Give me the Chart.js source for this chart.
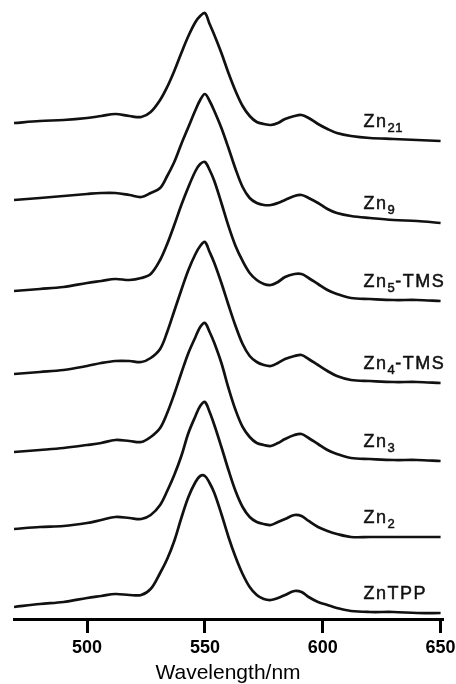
<!DOCTYPE html>
<html>

<head>
    <title>Zn porphyrin absorption spectra</title>
    <script src="https://cdn.jsdelivr.net/npm/chart.js"></script>
    <style>
        html, body { margin: 0; padding: 0; background: #fff; }
        canvas { display: block; }
    </style>
</head>

<body>
    <canvas id="specChart" width="456" height="684"></canvas>
    <script>
        // wavelength grid (nm), shared by every trace
        const wavelengths = [469, 480, 490, 500, 506, 512, 518, 523, 527, 531,
            534, 537, 540, 543, 546, 548, 550, 552, 554, 557,
            560, 563, 566, 569, 572, 575, 578, 581, 584, 588,
            591, 594, 598, 602, 606, 612, 620, 630, 640, 650];

        // absorbance (offset, a.u.), top trace first
        const zn21 = [4.97, 4.99, 5.00, 5.02, 5.04, 5.06, 5.04, 5.03, 5.08, 5.20,
            5.33, 5.49, 5.67, 5.84, 5.98, 6.04, 6.07, 5.96, 5.85, 5.67,
            5.47, 5.29, 5.14, 5.04, 4.98, 4.96, 4.95, 4.97, 5.01, 5.04,
            5.05, 5.02, 4.96, 4.91, 4.87, 4.84, 4.82, 4.81, 4.80, 4.79];
        const zn9 = [4.20, 4.22, 4.24, 4.26, 4.27, 4.27, 4.25, 4.23, 4.27, 4.32,
            4.44, 4.58, 4.76, 4.93, 5.10, 5.20, 5.26, 5.19, 5.09, 4.92,
            4.72, 4.51, 4.33, 4.22, 4.17, 4.15, 4.15, 4.17, 4.20, 4.24,
            4.25, 4.22, 4.17, 4.11, 4.07, 4.04, 4.02, 4.00, 3.99, 3.97];
        const zn5tms = [3.29, 3.31, 3.33, 3.37, 3.39, 3.41, 3.40, 3.42, 3.46, 3.60,
            3.76, 3.95, 4.15, 4.33, 4.49, 4.56, 4.58, 4.50, 4.39, 4.17,
            3.94, 3.74, 3.59, 3.47, 3.40, 3.36, 3.35, 3.38, 3.43, 3.46,
            3.46, 3.42, 3.36, 3.30, 3.26, 3.22, 3.21, 3.20, 3.20, 3.19];
        const zn4tms = [2.46, 2.48, 2.50, 2.54, 2.57, 2.59, 2.59, 2.58, 2.62, 2.71,
            2.88, 3.09, 3.30, 3.50, 3.66, 3.74, 3.78, 3.68, 3.57, 3.37,
            3.15, 2.94, 2.76, 2.64, 2.58, 2.55, 2.54, 2.57, 2.61, 2.64,
            2.65, 2.61, 2.55, 2.49, 2.44, 2.40, 2.39, 2.38, 2.38, 2.37];
        const zn3 = [1.68, 1.70, 1.72, 1.75, 1.77, 1.80, 1.79, 1.78, 1.83, 1.92,
            2.07, 2.26, 2.47, 2.67, 2.83, 2.93, 2.97, 2.88, 2.77, 2.57,
            2.32, 2.10, 1.93, 1.83, 1.77, 1.75, 1.74, 1.77, 1.81, 1.85,
            1.86, 1.82, 1.76, 1.70, 1.66, 1.62, 1.61, 1.60, 1.60, 1.59];
        const zn2 = [0.91, 0.93, 0.94, 0.97, 1.00, 1.03, 1.02, 1.01, 1.05, 1.15,
            1.29, 1.45, 1.64, 1.87, 2.04, 2.14, 2.18, 2.08, 1.95, 1.73,
            1.50, 1.29, 1.13, 1.03, 0.98, 0.96, 0.95, 0.98, 1.01, 1.05,
            1.04, 0.99, 0.93, 0.89, 0.86, 0.83, 0.83, 0.83, 0.83, 0.83];
        const znTPP = [0.13, 0.16, 0.18, 0.22, 0.24, 0.26, 0.25, 0.25, 0.31, 0.47,
            0.61, 0.79, 1.02, 1.23, 1.38, 1.44, 1.44, 1.37, 1.27, 1.06,
            0.83, 0.63, 0.46, 0.33, 0.25, 0.21, 0.20, 0.22, 0.25, 0.29,
            0.28, 0.23, 0.18, 0.15, 0.12, 0.09, 0.08, 0.08, 0.07, 0.07];

        // series names as [main, subscript, tail]
        const seriesNames = [['Zn', '21', ''], ['Zn', '9', ''], ['Zn', '5', '-TMS'], ['Zn', '4', '-TMS'],
            ['Zn', '3', ''], ['Zn', '2', ''], ['ZnTPP', '', '']];
        const seriesValues = [zn21, zn9, zn5tms, zn4tms, zn3, zn2, znTPP];
        const xTicks = [500, 550, 600, 650];

        const FONT = "'Liberation Sans', Arial, Helvetica, sans-serif";
        const labelNm = 617.3;

        // names drawn right above the flat tail of each trace
        const seriesLabels = {
            id: 'seriesLabels',
            afterDatasetsDraw(chart) {
                const ctx = chart.ctx;
                const xs = chart.scales.x, ys = chart.scales.y;
                ctx.save();
                ctx.fillStyle = '#111';
                ctx.strokeStyle = '#111';
                ctx.lineWidth = 0.5;
                ctx.textBaseline = 'alphabetic';
                ctx.textAlign = 'left';
                chart.data.datasets.forEach((ds, i) => {
                    const [main, sub, tail] = seriesNames[i];
                    const last = ds.data[ds.data.length - 1].y;
                    let px = xs.getPixelForValue(labelNm);
                    const py = ys.getPixelForValue(last) - 14;
                    ctx.letterSpacing = '1.5px';
                    ctx.font = '18px ' + FONT;
                    ctx.fillText(main, px, py);
                    ctx.strokeText(main, px, py);
                    px += ctx.measureText(main).width;
                    if (sub) {
                        ctx.letterSpacing = '0.5px';
                        ctx.font = '13px ' + FONT;
                        ctx.fillText(sub, px, py + 5);
                        ctx.strokeText(sub, px, py + 5);
                        px += ctx.measureText(sub).width;
                    }
                    if (tail) {
                        ctx.letterSpacing = '1.5px';
                        ctx.font = '18px ' + FONT;
                        ctx.fillText(tail, px, py);
                        ctx.strokeText(tail, px, py);
                    }
                });
                ctx.restore();
            }
        };

        const datasets = seriesValues.map((vals, i) => ({
            label: seriesNames[i].join(''),
            data: wavelengths.map((w, j) => ({ x: w, y: vals[j] })),
            borderColor: '#111',
            borderWidth: 2.7,
            pointRadius: 0,
            tension: 0.35,
            fill: false
        }));

        const ctx = document.getElementById('specChart').getContext('2d');
        new Chart(ctx, {
            type: 'line',
            data: { datasets: datasets },
            options: {
                responsive: false,
                animation: false,
                layout: { padding: { left: 14, right: 14, top: 0, bottom: 0 } },
                plugins: {
                    legend: { display: false },
                    tooltip: { enabled: false }
                },
                scales: {
                    x: {
                        type: 'linear',
                        min: 469,
                        max: 650.6,
                        afterBuildTicks: (scale) => { scale.ticks = xTicks.map(v => ({ value: v })); },
                        ticks: {
                            color: '#000',
                            padding: 0,
                            maxRotation: 0,
                            font: { family: FONT, size: 18, weight: 'bold', lineHeight: 1.667 }
                        },
                        grid: {
                            drawOnChartArea: false,
                            tickLength: 13,
                            lineWidth: 3,
                            tickWidth: 3,
                            color: '#000',
                            tickColor: '#000'
                        },
                        border: { display: true, color: '#000', width: 3 },
                        title: {
                            display: true,
                            text: 'Wavelength/nm',
                            color: '#000',
                            font: { family: FONT, size: 21, lineHeight: 1.0 },
                            padding: 0
                        }
                    },
                    y: { display: false, min: 0, max: 6.2 }
                }
            },
            plugins: [seriesLabels]
        });
    </script>
</body>

</html>
